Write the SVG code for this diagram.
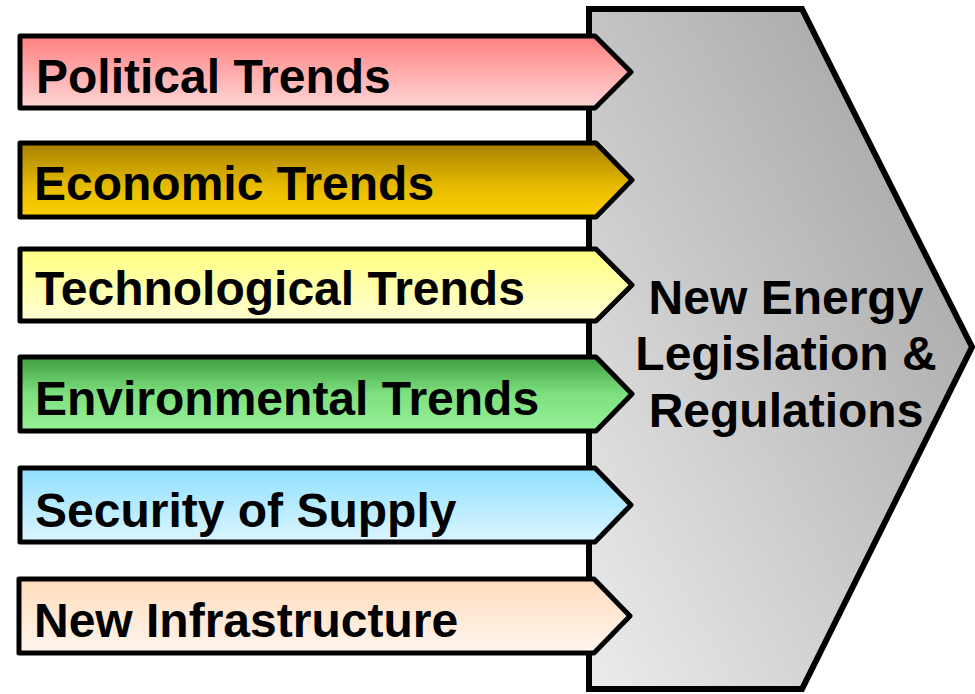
<svg xmlns="http://www.w3.org/2000/svg" width="975" height="694" viewBox="0 0 975 694">
<style>
.arrow{stroke:#000;stroke-width:5;stroke-linejoin:round}
.big{stroke:#000;stroke-width:6;stroke-linejoin:miter}
.lbl{font-family:"Liberation Sans",Arial,sans-serif;font-weight:bold;font-size:48px;fill:#000}
</style>
<defs>
<linearGradient id="gBig" x1="1" y1="0" x2="0" y2="1">
<stop offset="0" stop-color="#9c9c9c"/><stop offset="1" stop-color="#ececec"/>
</linearGradient>
<linearGradient id="gPol" x1="0" y1="0" x2="0" y2="1">
<stop offset="0" stop-color="#ff8080"/><stop offset="1" stop-color="#ffd6d6"/>
</linearGradient>
<linearGradient id="gEco" x1="0" y1="0" x2="0" y2="1">
<stop offset="0" stop-color="#a88000"/><stop offset="0.6" stop-color="#e8bc00"/><stop offset="1" stop-color="#ffd000"/>
</linearGradient>
<linearGradient id="gTec" x1="0" y1="0" x2="0" y2="1">
<stop offset="0" stop-color="#ffff80"/><stop offset="1" stop-color="#ffffd4"/>
</linearGradient>
<linearGradient id="gEnv" x1="0" y1="0" x2="0" y2="1">
<stop offset="0" stop-color="#3e9e3e"/><stop offset="0.5" stop-color="#7ee07e"/><stop offset="1" stop-color="#96f096"/>
</linearGradient>
<linearGradient id="gSec" x1="0" y1="0" x2="0" y2="1">
<stop offset="0" stop-color="#90e0ff"/><stop offset="1" stop-color="#dcf5ff"/>
</linearGradient>
<linearGradient id="gInf" x1="0" y1="0" x2="0" y2="1">
<stop offset="0" stop-color="#ffdcbc"/><stop offset="1" stop-color="#fff5ee"/>
</linearGradient>
</defs>
<g id="legislation">
<path class="big" fill="url(#gBig)" d="M589,9 L802,9 L972,347 L802,689 L589,689 Z"/>
<text class="lbl" x="786" y="314" text-anchor="middle">New Energy</text>
<text class="lbl" x="786" y="370" text-anchor="middle">Legislation &amp;</text>
<text class="lbl" x="786" y="427" text-anchor="middle">Regulations</text>
</g>
<g id="political">
<path class="arrow" fill="url(#gPol)" d="M20,36 L595,36 L631,72 L595,108 L20,108 Z"/>
<text class="lbl" x="36" y="93">Political Trends</text>
</g>
<g id="economic">
<path class="arrow" fill="url(#gEco)" d="M20,143 L596,143 L632,180 L596,217 L20,217 Z"/>
<text class="lbl" x="34" y="200">Economic Trends</text>
</g>
<g id="technological">
<path class="arrow" fill="url(#gTec)" d="M20,249 L596,249 L632,285 L596,321 L20,321 Z"/>
<text class="lbl" x="35" y="305">Technological Trends</text>
</g>
<g id="environmental">
<path class="arrow" fill="url(#gEnv)" d="M20,357 L596,357 L632,394 L596,431 L20,431 Z"/>
<text class="lbl" x="35" y="415">Environmental Trends</text>
</g>
<g id="security">
<path class="arrow" fill="url(#gSec)" d="M20,468 L595,468 L631,505 L595,542 L20,542 Z"/>
<text class="lbl" x="35" y="527">Security of Supply</text>
</g>
<g id="infrastructure">
<path class="arrow" fill="url(#gInf)" d="M19,579 L594,579 L630,616 L594,653 L19,653 Z"/>
<text class="lbl" x="34" y="637">New Infrastructure</text>
</g>
<g id="connectors"/>
</svg>
